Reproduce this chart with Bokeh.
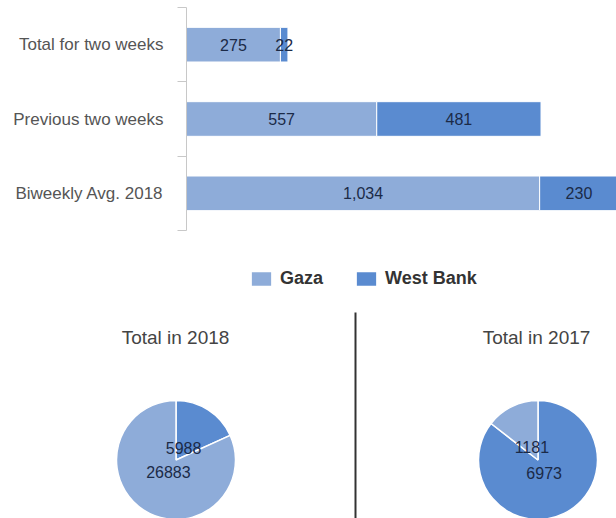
import math
from bokeh.plotting import figure
from bokeh.models import Range1d, FixedTicker, ColumnDataSource, Legend, LegendItem
from bokeh.embed import file_html
from bokeh.resources import INLINE
from bokeh.core.properties import value

# ---------------- data ----------------
categories = ["Total for two weeks", "Previous two weeks", "Biweekly Avg. 2018"]
gaza = [275, 557, 1034]
west_bank = [22, 481, 230]
series_names = ["Gaza", "West Bank"]
pie_titles = ["Total in 2018", "Total in 2017"]
pie_gaza = [26883, 1181]
pie_west_bank = [5988, 6973]

# ---------------- style ----------------
GAZA_C = "#8eacd9"
WB_C = "#5a8bd0"
FONT = "Liberation Sans"
AX_C = "#c8c8c8"
W = 616
SPLIT = 232

# ---------------- bar chart ----------------
n = len(categories)
y_pos = [n - i - 0.5 for i in range(n)]
totals = [g + w for g, w in zip(gaza, west_bank)]
src = ColumnDataSource(dict(
    y=y_pos, gaza=gaza, wb=west_bank, total=totals,
    gmid=[g / 2 for g in gaza],
    wmid=[g + w / 2 for g, w in zip(gaza, west_bank)],
    glbl=[f"{g:,}" for g in gaza],
    wlbl=[f"{w:,}" for w in west_bank],
))

bar = figure(width=W, height=SPLIT, x_range=Range1d(0, 1259), y_range=Range1d(0, n),
             output_backend="svg", toolbar_location=None,
             min_border_left=186, min_border_right=0, min_border_top=7, min_border_bottom=2)
BH = 0.466
bar.hbar(y="y", left=0, right="gaza", height=BH, fill_color=GAZA_C,
         line_color="white", line_width=1, source=src)
bar.hbar(y="y", left="gaza", right="total", height=BH, fill_color=WB_C,
         line_color="white", line_width=1, source=src)
lbl_kw = dict(text_align="center", text_baseline="middle", text_font=value(FONT),
              text_font_size="16px", text_color="#1b2a47", source=src)
bar.text(x="gmid", y="y", text="glbl", **lbl_kw)
bar.text(x="wmid", y="y", text="wlbl", **lbl_kw)

bar.xaxis.visible = False
bar.xgrid.visible = False
bar.ygrid.visible = False
bar.outline_line_color = None
yax = bar.yaxis[0]
yax.ticker = FixedTicker(ticks=y_pos, minor_ticks=list(range(n + 1)))
yax.major_label_overrides = {y: c for y, c in zip(y_pos, categories)}
yax.major_tick_line_color = None
yax.major_tick_out = 9
yax.major_tick_in = 0
yax.minor_tick_out = 9
yax.minor_tick_in = 0
yax.minor_tick_line_color = AX_C
yax.axis_line_color = AX_C
yax.major_label_standoff = 14
yax.major_label_text_font = FONT
yax.major_label_text_font_size = "17px"
yax.major_label_text_color = "#555555"

# ---------------- pies ----------------
bot = figure(width=W, height=518 - SPLIT, x_range=Range1d(0, W), y_range=Range1d(-518, -SPLIT),
             output_backend="svg", toolbar_location=None, min_border=0,
             min_border_left=0, min_border_right=0, min_border_top=0, min_border_bottom=0)
bot.axis.visible = False
bot.grid.visible = False
bot.outline_line_color = None

PIE_X = [175.5, 537.5]
PIE_Y = -459.5
R = 59.5
LR = 14

xs, ys, starts, ends, colors, lx, ly, ltxt = [], [], [], [], [], [], [], []
for k in range(len(pie_titles)):
    vals = [pie_west_bank[k], pie_gaza[k]]
    cols = [WB_C, GAZA_C]
    tot = sum(vals)
    cum = 0
    for v, c in zip(vals, cols):
        f0 = cum / tot
        cum += v
        f1 = cum / tot
        xs.append(PIE_X[k]); ys.append(PIE_Y)
        starts.append(math.pi / 2 - 2 * math.pi * f1)
        ends.append(math.pi / 2 - 2 * math.pi * f0)
        colors.append(c)
        mid = 2 * math.pi * (f0 + f1) / 2
        lx.append(PIE_X[k] + LR * math.sin(mid))
        ly.append(PIE_Y + LR * math.cos(mid))
        ltxt.append(str(v))

wsrc = ColumnDataSource(dict(x=xs, y=ys, s=starts, e=ends, c=colors))
wr = bot.wedge(x="x", y="y", radius=R, start_angle="s", end_angle="e", direction="anticlock",
               fill_color="c", line_color="white", line_width=1.5, source=wsrc)
bot.text(x=lx, y=ly, text=ltxt, text_align="center", text_baseline="middle",
         text_font=value(FONT), text_font_size="16px", text_color="#1b2a47")

bot.text(x=[175, 536], y=[-337, -337], text=pie_titles, text_align="center", text_baseline="middle",
         text_font=value(FONT), text_font_size="19px", text_color="#444444")

bot.segment(x0=[355], y0=[-312], x1=[355], y1=[-518], line_color="#333333", line_width=2)

legend = Legend(items=[LegendItem(label=series_names[0], renderers=[wr], index=1),
                       LegendItem(label=series_names[1], renderers=[wr], index=0)],
                orientation="horizontal", location=(248, 229),
                glyph_width=26, glyph_height=19, label_height=19, label_standoff=6, spacing=30,
                padding=0, margin=0, border_line_color=None, background_fill_alpha=0,
                label_text_font=FONT, label_text_font_style="bold", label_text_font_size="18px",
                label_text_color="#333333")
bot.add_layout(legend)

open("out.html", "w").write(file_html([bar, bot], INLINE))
